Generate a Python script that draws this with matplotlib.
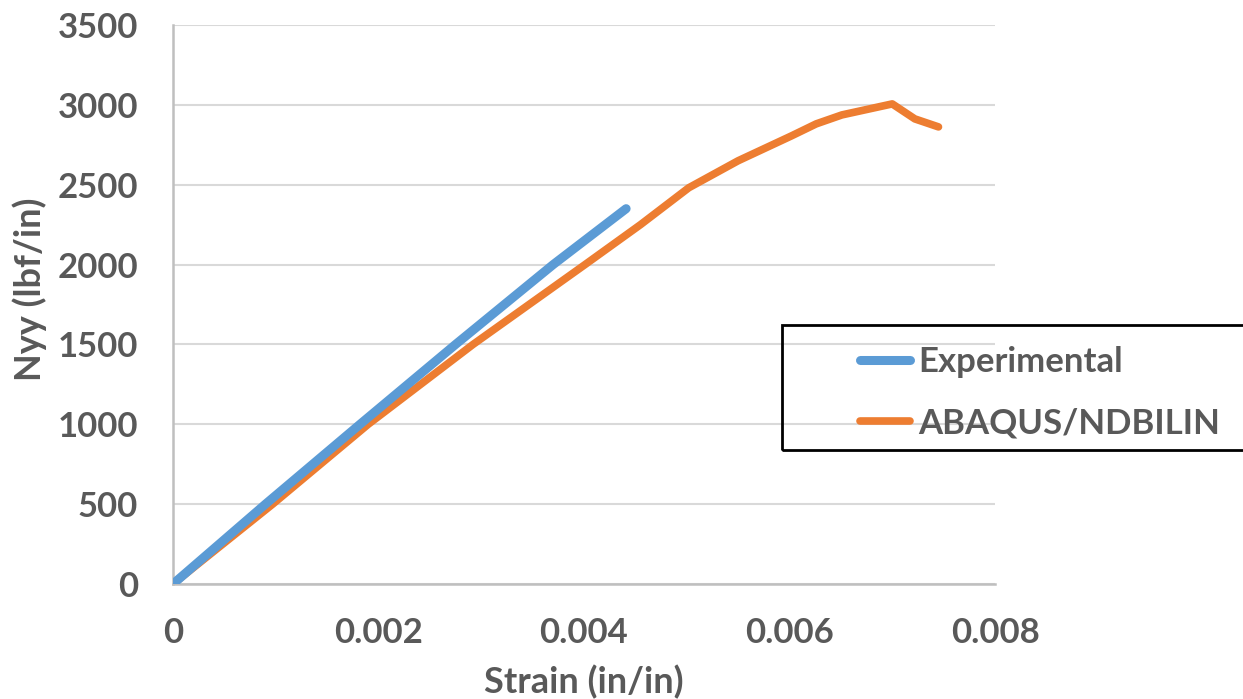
import matplotlib
matplotlib.use("Agg")
import matplotlib.pyplot as plt
from matplotlib.patches import Rectangle

# ---- data ----
exp_strain = [0.0, 0.0009, 0.00182, 0.00275, 0.00370, 0.00441]
exp_load = [0, 500, 1000, 1500, 2000, 2350]

aba_strain = [0.0, 0.00097, 0.0019, 0.00292, 0.00401, 0.00455, 0.00502, 0.00550,
              0.00602, 0.00626, 0.00651, 0.00700, 0.00722, 0.00745]
aba_load = [0, 500, 1000, 1500, 2000, 2250, 2481, 2650, 2806, 2881, 2937, 3006, 2912, 2862]

x_ticks = [0, 0.002, 0.004, 0.006, 0.008]
x_tick_labels = ["0", "0.002", "0.004", "0.006", "0.008"]
y_ticks = [0, 500, 1000, 1500, 2000, 2500, 3000, 3500]
y_tick_labels = ["0", "500", "1000", "1500", "2000", "2500", "3000", "3500"]

series_names = ["Experimental", "ABAQUS/NDBILIN"]
colors = ["#5B9BD5", "#ED7D31"]
TXT = "#595959"
FONT = "Lato"

W, H = 1243, 699
fig = plt.figure(figsize=(W / 100, H / 100), dpi=100)
ax = fig.add_axes([173 / W, 1 - 584 / H, (995 - 173) / W, (584 - 25) / H])

ax.plot(exp_strain, exp_load, color=colors[0], lw=6.5, solid_capstyle="round",
        solid_joinstyle="round", label=series_names[0], zorder=3)
ax.plot(aba_strain, aba_load, color=colors[1], lw=5.5, solid_capstyle="round",
        solid_joinstyle="round", label=series_names[1], zorder=2)

ax.set_xlim(0, 0.008)
ax.set_ylim(0, 3500)
ax.set_xticks(x_ticks)
ax.set_xticklabels(x_tick_labels, family=FONT, fontweight="bold", fontsize=25, color=TXT)
ax.set_yticks(y_ticks)
ax.set_yticklabels(y_tick_labels, family=FONT, fontweight="bold", fontsize=25, color=TXT)
ax.tick_params(axis="x", length=0, pad=24)
ax.tick_params(axis="y", length=0, pad=25)

ax.grid(axis="y", color="#d9d9d9", lw=1.5)
ax.set_axisbelow(True)
for s in ["top", "right"]:
    ax.spines[s].set_visible(False)
for s in ["left", "bottom"]:
    ax.spines[s].set_color("#bfbfbf")
    ax.spines[s].set_linewidth(1.8)

fig.text(584 / W, 1 - 682 / H, "Strain (in/in)", ha="center", va="center",
         family=FONT, fontweight="bold", fontsize=26, color=TXT)
fig.text(30 / W, 1 - 289 / H, "Nyy (lbf/in)", ha="center", va="center", rotation=90,
         family=FONT, fontweight="bold", fontsize=26, color=TXT)

# legend frame
fig.patches.append(Rectangle((782 / W, 1 - 450 / H), 0.5, 125 / H, transform=fig.transFigure,
                             fill=False, edgecolor="black", lw=2, clip_on=False, zorder=10))
leg = ax.legend(loc="upper left", bbox_to_anchor=(846 / W, 1 - 332 / H),
                bbox_transform=fig.transFigure, frameon=False,
                prop={"family": FONT, "weight": "bold", "size": 25},
                handlelength=1.44, handletextpad=0.25, labelspacing=0.85, borderaxespad=0)
for t in leg.get_texts():
    t.set_color(TXT)

fig.savefig("out.png", dpi=100)
